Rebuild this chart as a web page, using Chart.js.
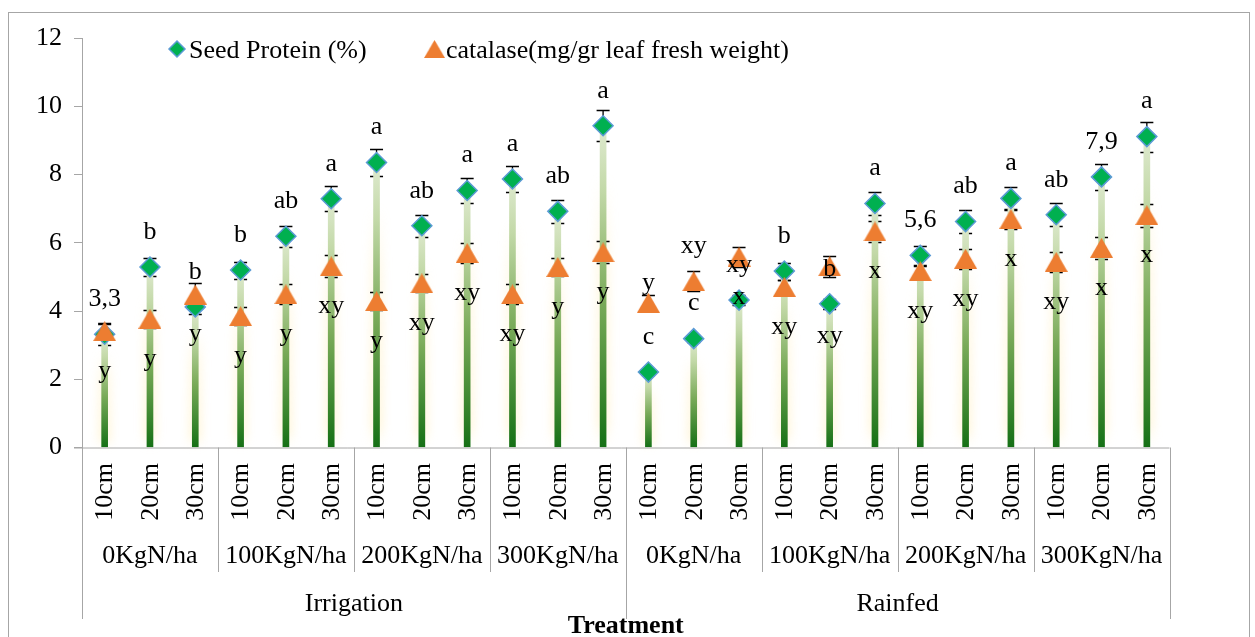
<!DOCTYPE html>
<html>
<head>
<meta charset="utf-8">
<script src="https://cdn.jsdelivr.net/npm/chart.js@4.4.1/dist/chart.umd.min.js"></script>
<style>
  body { margin: 0; background: #fff; }
  #wrap { width: 1255px; height: 637px; position: relative; }
</style>
</head>
<body>
<div id="wrap"><canvas id="myChart"></canvas></div>
<script>
// categories
const waterRegimes = ['Irrigation', 'Rainfed']
const nitrogenLevels = ['0KgN/ha', '100KgN/ha', '200KgN/ha', '300KgN/ha']
const depths = ['10cm', '20cm', '30cm']
const yTicks = [0, 2, 4, 6, 8, 10, 12]

// series
const seedProtein = [3.32, 5.29, 4.12, 5.20, 6.19, 7.29, 8.35, 6.50, 7.53, 7.87, 6.92, 9.43,
                     2.21, 3.19, 4.32, 5.17, 4.21, 7.15, 5.63, 6.62, 7.30, 6.82, 7.93, 9.11]
const proteinErr = [0.32, 0.26, 0.2, 0.25, 0.31, 0.36, 0.4, 0.32, 0.37, 0.39, 0.34, 0.45,
                    0.1, 0.1, 0.15, 0.25, 0.15, 0.35, 0.27, 0.33, 0.34, 0.34, 0.39, 0.44]
const catalase = [3.41, 3.77, 4.48, 3.85, 4.49, 5.31, 4.29, 4.81, 5.70, 4.49, 5.29, 5.72,
                  4.24, 4.87, 5.59, 4.71, 5.31, 6.33, 5.17, 5.53, 6.70, 5.44, 5.85, 6.81]
const catalaseErr = [0.2, 0.27, 0.35, 0.27, 0.29, 0.32, 0.26, 0.26, 0.29, 0.29, 0.27, 0.32,
                     0.23, 0.29, 0.3, 0.2, 0.3, 0.3, 0.15, 0.3, 0.3, 0.3, 0.32, 0.34]
const proteinLetters = ['3,3', 'b', 'b', 'b', 'ab', 'a', 'a', 'ab', 'a', 'a', 'ab', 'a',
                        'c', 'c', 'xy', 'b', 'b', 'a', '5,6', 'ab', 'a', 'ab', '7,9', 'a']
const catalaseLetters = ['y', 'y', 'y', 'y', 'y', 'xy', 'y', 'xy', 'xy', 'xy', 'y', 'y',
                         'y', 'xy', 'x', 'xy', 'xy', 'x', 'xy', 'xy', 'x', 'xy', 'x', 'x']

// label placement (pixels from the marker), a few were moved by hand in the original
const catLabelShift = {12: -20, 13: -35, 16: 70}

const labels = []
waterRegimes.forEach(w => nitrogenLevels.forEach(n => depths.forEach(d => labels.push(d))))

const FONT = '"Liberation Serif", "Times New Roman", serif'
Chart.defaults.font.family = FONT
Chart.defaults.font.size = 26
Chart.defaults.color = '#000'

function makeTriangle(w, h, color) {
  const c = document.createElement('canvas')
  c.width = w
  c.height = h
  const g = c.getContext('2d')
  g.fillStyle = color
  g.beginPath()
  g.moveTo(w / 2, 0)
  g.lineTo(w, h)
  g.lineTo(0, h)
  g.closePath()
  g.fill()
  return c
}
const triangleImg = makeTriangle(23, 20, '#ED7D31')

function drawDiamond(ctx, x, y, r) {
  ctx.beginPath()
  ctx.moveTo(x - r, y)
  ctx.lineTo(x, y - r)
  ctx.lineTo(x + r, y)
  ctx.lineTo(x, y + r)
  ctx.closePath()
  ctx.fillStyle = '#00B050'
  ctx.fill()
  ctx.strokeStyle = '#5B9BD5'
  ctx.lineWidth = 1.5
  ctx.stroke()
}

const underlay = {
  id: 'underlay',
  beforeDatasetsDraw(chart) {
    const { ctx, scales: { x, y } } = chart
    const y0 = y.getPixelForValue(0)
    ctx.save()
    // faint yellow glow round the stems
    ctx.filter = 'blur(4px)'
    seedProtein.forEach((v, i) => {
      const px = x.getPixelForValue(i)
      const top = y.getPixelForValue(v)
      const g = ctx.createLinearGradient(0, y0, 0, top)
      g.addColorStop(0, 'rgba(255,235,170,0)')
      g.addColorStop(0.08, 'rgba(255,228,150,0.3)')
      g.addColorStop(0.6, 'rgba(255,228,150,0.22)')
      g.addColorStop(0.85, 'rgba(255,228,150,0)')
      ctx.fillStyle = g
      ctx.fillRect(px - 7, top, 14, y0 - top)
    })
    ctx.filter = 'none'
    // error bars
    ctx.strokeStyle = '#000'
    ctx.lineWidth = 1.3
    const bars = (vals, errs) => vals.forEach((v, i) => {
      const px = x.getPixelForValue(i)
      const t = Math.round(y.getPixelForValue(v + errs[i])) + 0.5
      const b = Math.round(y.getPixelForValue(v - errs[i])) + 0.5
      ctx.beginPath()
      ctx.moveTo(px, t); ctx.lineTo(px, b)
      ctx.moveTo(px - 6.5, t); ctx.lineTo(px + 6.5, t)
      ctx.moveTo(px - 6.5, b); ctx.lineTo(px + 6.5, b)
      ctx.stroke()
    })
    bars(seedProtein, proteinErr)
    bars(catalase, catalaseErr)
    ctx.restore()
  }
}

const overlay = {
  id: 'overlay',
  afterDatasetsDraw(chart) {
    const { ctx, scales: { x, y } } = chart
    ctx.save()
    ctx.font = '26px ' + FONT
    ctx.fillStyle = '#000'
    ctx.textAlign = 'center'
    ctx.textBaseline = 'middle'
    seedProtein.forEach((v, i) => {
      ctx.fillText(proteinLetters[i], x.getPixelForValue(i), y.getPixelForValue(v) - 35)
    })
    catalase.forEach((v, i) => {
      const shift = catLabelShift[i] !== undefined ? catLabelShift[i] : 40
      ctx.fillText(catalaseLetters[i], x.getPixelForValue(i), y.getPixelForValue(v) + shift)
    })
    ctx.restore()
  },
  afterDraw(chart) {
    const { ctx, chartArea, scales: { x } } = chart
    const axisY = chartArea.bottom
    const catW = (chartArea.right - chartArea.left) / labels.length
    ctx.save()
    // legend
    drawDiamond(ctx, 177, 49, 8)
    ctx.drawImage(triangleImg, 424, 40, 21, 18)
    ctx.font = '26px ' + FONT
    ctx.fillStyle = '#000'
    ctx.textAlign = 'left'
    ctx.textBaseline = 'alphabetic'
    ctx.fillText('Seed Protein (%)', 189, 58)
    ctx.fillText('catalase(mg/gr leaf fresh weight)', 446, 58)

    // multi level category axis
    ctx.strokeStyle = '#A6A6A6'
    ctx.lineWidth = 1
    ctx.beginPath()
    ctx.moveTo(chartArea.left - 8, axisY + 0.5)
    ctx.lineTo(chartArea.right, axisY + 0.5)
    for (let k = 0; k <= labels.length / 3; k++) {
      const sx = Math.round(chartArea.left + k * 3 * catW) + 0.5
      ctx.moveTo(sx, axisY)
      ctx.lineTo(sx, k % 4 === 0 ? 619 : 572)
    }
    ctx.stroke()

    labels.forEach((lab, i) => {
      ctx.save()
      ctx.translate(x.getPixelForValue(i) + 1, 463)
      ctx.rotate(-Math.PI / 2)
      ctx.textAlign = 'right'
      ctx.textBaseline = 'middle'
      ctx.fillText(lab, 0, 0)
      ctx.restore()
    })
    ctx.textAlign = 'center'
    ctx.textBaseline = 'middle'
    let g = 0
    waterRegimes.forEach((w, wi) => {
      nitrogenLevels.forEach((n) => {
        const cx = chartArea.left + (g * 3 + 1.5) * catW
        ctx.fillText(n, cx, 556)
        g++
      })
      const wx = chartArea.left + (wi * 12 + 6) * catW
      ctx.fillText(w, wx, 604)
    })
    ctx.font = 'bold 26px ' + FONT
    ctx.textBaseline = 'alphabetic'
    ctx.fillText('Treatment', (chartArea.left + chartArea.right) / 2, 633)

    // chart frame
    ctx.strokeStyle = '#A6A6A6'
    ctx.strokeRect(8.5, 12.5, 1241, 700)
    ctx.restore()
  }
}

const ctx = document.getElementById('myChart').getContext('2d')
const chart = new Chart(ctx, {
  type: 'bar',
  data: {
    labels: labels,
    datasets: [
      {
        type: 'bar',
        label: 'stem',
        data: seedProtein,
        barThickness: 6,
        borderWidth: 0,
        order: 3,
        backgroundColor: function (c) {
          const ch = c.chart
          if (!ch.chartArea || c.raw === undefined) return '#5a9a40'
          const y0 = ch.scales.y.getPixelForValue(0)
          const y1 = ch.scales.y.getPixelForValue(c.raw)
          const gr = ch.ctx.createLinearGradient(0, y0, 0, y1)
          gr.addColorStop(0, '#157015')
          gr.addColorStop(0.45, '#79aa58')
          gr.addColorStop(0.8, '#c3d9a8')
          gr.addColorStop(1, '#dfead0')
          return gr
        },
      },
      {
        type: 'line',
        label: 'Seed Protein (%)',
        data: seedProtein,
        showLine: false,
        order: 2,
        pointStyle: 'rectRot',
        pointRadius: 10,
        pointBackgroundColor: '#00B050',
        pointBorderColor: '#5B9BD5',
        pointBorderWidth: 1.5,
      },
      {
        type: 'line',
        label: 'catalase(mg/gr leaf fresh weight)',
        data: catalase,
        showLine: false,
        order: 1,
        pointStyle: triangleImg,
        pointRadius: 12,
      },
    ],
  },
  options: {
    responsive: true,
    maintainAspectRatio: false,
    animation: false,
    layout: {
      padding: { left: 8, top: 38, right: 85.5, bottom: 189.5 },
    },
    plugins: {
      legend: { display: false },
      tooltip: { enabled: false },
    },
    scales: {
      x: {
        display: false,
        offset: true,
      },
      y: {
        min: 0,
        max: 12,
        afterFit: (scale) => { scale.width = 74 },
        afterBuildTicks: (scale) => { scale.ticks = yTicks.map(v => ({ value: v })) },
        ticks: { padding: 12, color: '#000', font: { size: 26 } },
        grid: { drawOnChartArea: false, drawTicks: true, tickLength: 8, color: '#A6A6A6' },
        border: { color: '#A6A6A6', width: 1 },
      },
    },
  },
  plugins: [underlay, overlay],
})
</script>
</body>
</html>
